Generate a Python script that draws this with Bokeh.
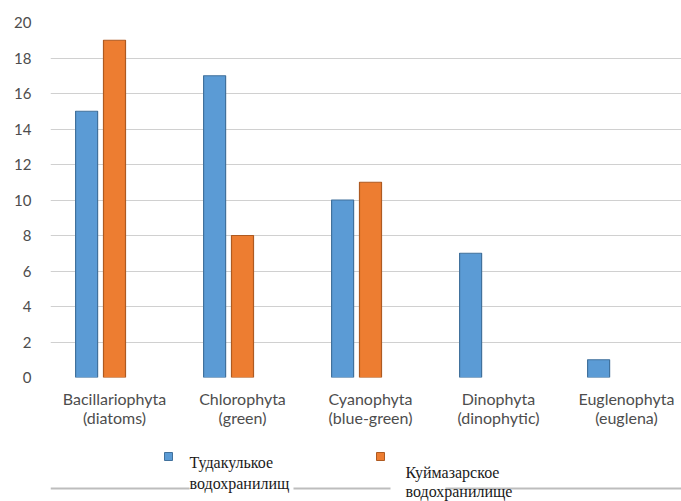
from bokeh.plotting import figure
from bokeh.layouts import column
from bokeh.models import Range1d, FixedTicker, ColumnDataSource, CDSView, BooleanFilter
from bokeh.transform import dodge
from bokeh.core.properties import value
from bokeh.embed import file_html
from bokeh.resources import INLINE

# Number of species per algae division in the two reservoirs
categories = [
    "Bacillariophyta\n(diatoms)",
    "Chlorophyta\n(green)",
    "Cyanophyta\n(blue-green)",
    "Dinophyta\n(dinophytic)",
    "Euglenophyta\n(euglena)",
]
tudakul = [15, 17, 10, 7, 1]
kuimazar = [19, 8, 11, 0, 0]
series_names = [["Тудакулькое", "водохранилищ"], ["Куймазарское", "водохранилище"]]
y_ticks = list(range(0, 21, 2))

BLUE, BLUE_EDGE = "#5b9bd5", "#41719c"
ORANGE, ORANGE_EDGE = "#ed7d31", "#ae5a21"
AXIS_FONT = "Lato"

xs = [i + 0.5 for i in range(len(categories))]
src = ColumnDataSource(dict(x=xs, tudakul=tudakul, kuimazar=kuimazar))

p = figure(
    width=681, height=440,
    x_range=Range1d(0, 631 / 128), y_range=Range1d(0, 20),
    output_backend="svg", toolbar_location=None,
    min_border_left=50, min_border_right=0, min_border_top=22, min_border_bottom=63,
)
p.outline_line_color = None
p.background_fill_color = "white"

bar_w = 0.172
# empty (zero) counts are left out so no flat outline is drawn on the baseline
p.vbar(x=dodge("x", -0.218, range=p.x_range), top="tudakul", width=bar_w, bottom=0,
       source=src, view=CDSView(filter=BooleanFilter([v > 0 for v in tudakul])),
       fill_color=BLUE, line_color=BLUE_EDGE, line_width=1.2)
p.vbar(x=dodge("x", 0.0, range=p.x_range), top="kuimazar", width=bar_w, bottom=0,
       source=src, view=CDSView(filter=BooleanFilter([v > 0 for v in kuimazar])),
       fill_color=ORANGE, line_color=ORANGE_EDGE, line_width=1.2)

# Axes
p.xaxis.ticker = FixedTicker(ticks=xs)
p.xaxis.major_label_overrides = {x: c for x, c in zip(xs, categories)}
p.yaxis.ticker = FixedTicker(ticks=y_ticks)
for ax in (p.xaxis, p.yaxis):
    ax.axis_line_color = None
    ax.major_tick_line_color = None
    ax.minor_tick_line_color = None
    ax.major_label_text_font = AXIS_FONT
    ax.major_label_text_color = "#4d4d4d"
p.xaxis.major_label_text_font_size = "16px"
p.xaxis.major_label_standoff = 5
p.xaxis.major_label_text_line_height = 1.0
p.yaxis.major_label_text_font_size = "15px"
p.yaxis.major_label_standoff = 13

p.xgrid.grid_line_color = None
p.ygrid.grid_line_color = "#d0d0d0"
p.ygrid.grid_line_width = 1.2

# Legend strip beneath the chart; its frame starts under the chart frame,
# so the ranges map one unit to one pixel
lg = figure(
    width=681, height=61, x_range=Range1d(50, 681), y_range=Range1d(0, 61),
    output_backend="svg", toolbar_location=None,
    min_border=0, min_border_left=50,
)
lg.axis.visible = False
lg.grid.visible = False
lg.outline_line_color = None

# rule running under the legend text
lg.segment(x0=[50, 293, 445], y0=[13, 13, 13], x1=[189, 390, 681], y1=[13, 13, 13],
           line_color="#bdbdbd", line_width=2)

lg.rect(x=[168, 380], y=[45, 45], width=8, height=8,
        fill_color=[BLUE, ORANGE], line_color=[BLUE_EDGE, ORANGE_EDGE], line_width=1)

lg.text(x=[189, 189], y=[39, 18], text=series_names[0],
        text_font=value("Liberation Serif"), text_font_size="16px",
        text_color="#1a1a1a", text_baseline="middle", text_align="left")
lg.text(x=[405, 405], y=[29, 10], text=series_names[1],
        text_font=value("Liberation Serif"), text_font_size="16px",
        text_color="#1a1a1a", text_baseline="middle", text_align="left")

layout = column(p, lg, spacing=0)
open("out.html", "w").write(file_html(layout, INLINE))
